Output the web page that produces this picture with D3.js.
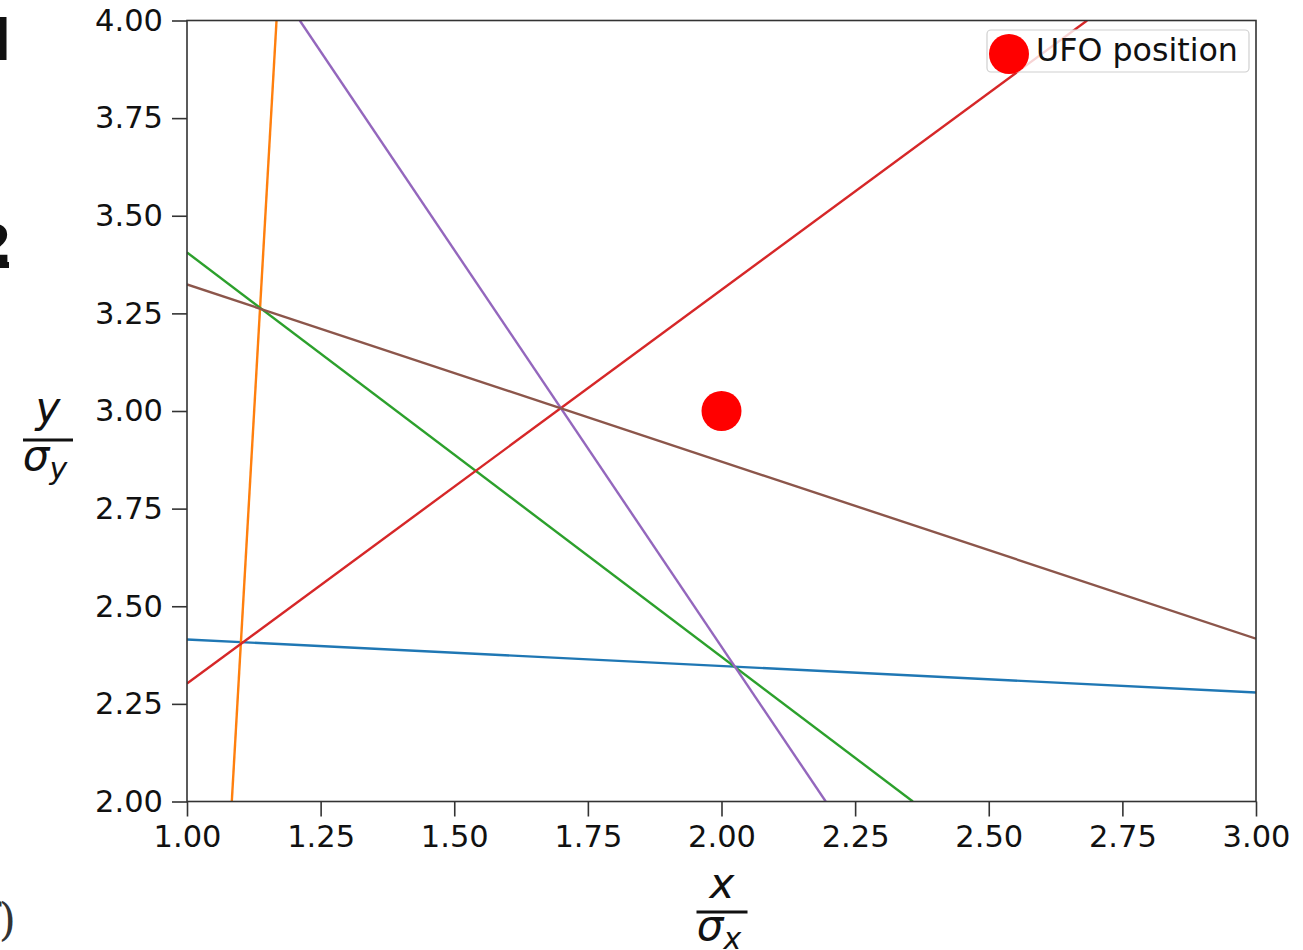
<!DOCTYPE html>
<html>
<head>
<meta charset="utf-8">
<script src="https://cdn.jsdelivr.net/npm/d3@7"></script>
<style>
  html, body { margin: 0; padding: 0; background: #fff; }
  svg { display: block; }
  text { font-family: "DejaVu Sans", sans-serif; }
</style>
</head>
<body>
<svg id="chart" width="1303" height="950"></svg>
<script>
// ---- data ----
const xTicks = [1.00, 1.25, 1.50, 1.75, 2.00, 2.25, 2.50, 2.75, 3.00];
const yTicks = [2.00, 2.25, 2.50, 2.75, 3.00, 3.25, 3.50, 3.75, 4.00];
const xDomain = [1, 3];
const yDomain = [2, 4];
// each line: two points [x, y] in data units
const lineNames = ["blue", "orange", "green", "red", "purple", "brown"];
const lineColors = ["#1f77b4", "#ff7f0e", "#2ca02c", "#d62728", "#9467bd", "#8c564b"];
const lineStart = [[1.00, 2.415], [1.0838, 2.00], [1.00, 3.406], [1.00, 2.302], [1.211, 4.00], [1.00, 3.324]];
const lineEnd   = [[3.00, 2.279], [1.1675, 4.00], [2.358, 2.00], [2.684, 4.00], [2.195, 2.00], [3.00, 2.417]];
const ufoX = [2.0];
const ufoY = [3.0];
const legendLabel = "UFO position";

// ---- layout ----
const svg = d3.select("#chart");
const mLeft = 187, mTop = 20.5, plotW = 1069, plotH = 781;
const x = d3.scaleLinear().domain(xDomain).range([mLeft, mLeft + plotW]);
const y = d3.scaleLinear().domain(yDomain).range([mTop + plotH, mTop]);

const defs = svg.append("defs");
defs.append("clipPath").attr("id", "clip")
  .append("rect").attr("x", mLeft).attr("y", mTop).attr("width", plotW).attr("height", plotH);
defs.append("clipPath").attr("id", "clipOne")
  .append("rect").attr("x", 0).attr("y", 0).attr("width", 6.5).attr("height", 80);

const plot = svg.append("g").attr("clip-path", "url(#clip)");
const lineGen = d3.line().x(d => x(d[0])).y(d => y(d[1]));
lineNames.forEach((n, i) => {
  plot.append("path")
    .attr("d", lineGen([lineStart[i], lineEnd[i]]))
    .attr("fill", "none")
    .attr("stroke", lineColors[i])
    .attr("stroke-width", 2.4);
});

plot.selectAll("circle.ufo").data(ufoX.map((v, i) => [v, ufoY[i]])).join("circle")
  .attr("class", "ufo")
  .attr("cx", d => x(d[0])).attr("cy", d => y(d[1])).attr("r", 20)
  .attr("fill", "#ff0000");

// frame
svg.append("rect").attr("x", mLeft).attr("y", mTop).attr("width", plotW).attr("height", plotH)
  .attr("fill", "none").attr("stroke", "#333").attr("stroke-width", 1.6);

// axes
const fmt = d3.format(".2f");
const xAxis = svg.append("g").attr("transform", `translate(0,${mTop + plotH})`)
  .call(d3.axisBottom(x).tickValues(xTicks).tickFormat(fmt).tickSize(15).tickPadding(9));
const yAxis = svg.append("g").attr("transform", `translate(${mLeft},0)`)
  .call(d3.axisLeft(y).tickValues(yTicks).tickFormat(fmt).tickSize(15).tickPadding(9));
[xAxis, yAxis].forEach(a => {
  a.select(".domain").remove();
  a.selectAll(".tick line").attr("stroke", "#333").attr("stroke-width", 1.6);
  a.selectAll(".tick text").attr("font-size", 30.5).attr("fill", "#111");
});

// axis labels (fractions)
function fraction(cx, numY, barY, denY, num, sub, barW) {
  const g = svg.append("g");
  g.append("text").attr("x", cx).attr("y", numY).attr("text-anchor", "middle")
    .attr("font-size", 42).attr("font-style", "italic").attr("fill", "#111").text(num);
  g.append("line").attr("x1", cx - barW / 2).attr("x2", cx + barW / 2)
    .attr("y1", barY).attr("y2", barY).attr("stroke", "#111").attr("stroke-width", 3);
  const t = g.append("text").attr("x", cx - 3).attr("y", denY).attr("text-anchor", "middle")
    .attr("font-size", 42).attr("font-style", "italic").attr("fill", "#111");
  t.append("tspan").text("σ");
  t.append("tspan").attr("font-size", 30).attr("dy", 9).text(sub);
}
fraction(722, 898, 912, 940, "x", "x", 51);
fraction(48, 422, 440, 470, "y", "y", 50);

// legend
const lg = svg.append("g");
lg.append("rect").attr("x", 987).attr("y", 30).attr("width", 262).attr("height", 42).attr("rx", 4)
  .attr("fill", "#fff").attr("fill-opacity", 0.8).attr("stroke", "#d0d0d0").attr("stroke-width", 1.2);
lg.append("circle").attr("cx", 1009).attr("cy", 54).attr("r", 20).attr("fill", "#ff0000");
lg.append("text").attr("x", 1036).attr("y", 61).attr("font-size", 31.7).attr("fill", "#111").text(legendLabel);

// cropped fragments at left edge
svg.append("g").attr("clip-path", "url(#clipOne)")
  .append("text").attr("x", -19).attr("y", 60)
  .style("font-family", "DejaVu Sans").style("font-weight", "bold")
  .attr("font-size", 58).attr("fill", "#111").text("1");
svg.append("text").attr("x", 12).attr("y", 262).attr("text-anchor", "end")
  .style("font-weight", "bold").attr("font-size", 52).attr("fill", "#111").text("2");
svg.append("rect").attr("x", 0).attr("y", 262).attr("width", 9).attr("height", 6).attr("fill", "#111");
svg.append("text").attr("x", 16).attr("y", 935).attr("text-anchor", "end")
  .style("font-family", "DejaVu Serif").attr("font-size", 44).attr("fill", "#333").text("f)");
</script>
</body>
</html>
